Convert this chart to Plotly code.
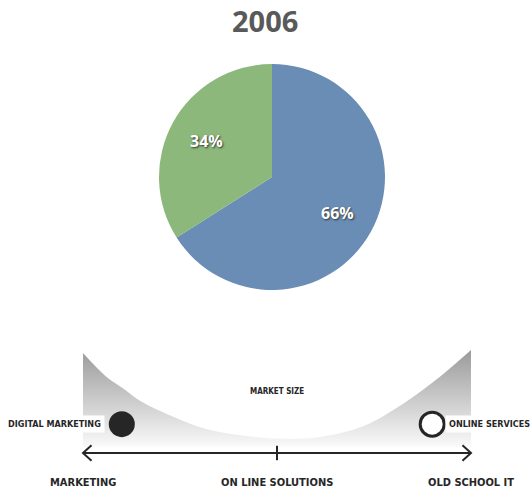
import math
import plotly.graph_objects as go

# ---------------- data ----------------
title_text = "2006"
pie_labels = ["Online solutions", "Other"]
pie_values = [66, 34]
pie_colors = ["#6a8db5", "#8cb87c"]

# market-size curve along the spectrum (0 = Marketing, 100 = Old school IT)
spectrum_pos = [0, 6, 11, 15, 24, 32, 41, 50, 57, 66, 74, 83, 91, 100]
market_size = [97, 74, 61, 50, 34, 23, 17, 14, 14, 19, 29, 49, 71, 100]
fill_floor = [6] * len(spectrum_pos)

company_names = ["DIGITAL MARKETING", "ONLINE SERVICES"]
company_pos = [10, 90]
company_size = [28, 28]

axis_labels = ["MARKETING", "ON LINE SOLUTIONS", "OLD SCHOOL IT"]
axis_label_pos = [0, 50, 100]
curve_label = "MARKET SIZE"

W, H = 530, 490
DARK = "#262626"
COND = "Liberation Sans Narrow, DejaVu Sans Condensed, Arial Narrow, sans-serif"

fig = go.Figure()

# pie
cx, cy, r = 272, 177, 113
fig.add_trace(go.Pie(
    labels=pie_labels, values=pie_values, sort=False, direction="clockwise",
    rotation=0, marker=dict(colors=pie_colors, line=dict(width=0)),
    textinfo="none",
    domain=dict(x=[(cx - r) / W, (cx + r) / W], y=[1 - (cy + r) / H, 1 - (cy - r) / H]),
    showlegend=False, hoverinfo="label+percent",
))

# percentage labels placed along each slice's mid-angle
total = sum(pie_values)
cum = 0
for v in pie_values:
    mid = (cum + v / 2) / total * 2 * math.pi
    cum += v
    px = cx + 0.66 * r * math.sin(mid)
    py = cy - 0.66 * r * math.cos(mid)
    fig.add_annotation(x=px / W, y=1 - py / H, xref="paper", yref="paper",
                       text=f"<b>{round(v / total * 100)}%</b>", showarrow=False,
                       xanchor="center", yanchor="middle",
                       font=dict(family="Open Sans", size=16, color="white",
                                 shadow="1px 1px 2px #333"))

# gray gradient market-size shape
fig.add_trace(go.Scatter(x=spectrum_pos, y=fill_floor, mode="lines",
                         line=dict(width=0, shape="spline"), showlegend=False,
                         hoverinfo="skip"))
fig.add_trace(go.Scatter(
    x=spectrum_pos, y=market_size, mode="lines", fill="tonexty",
    line=dict(width=0, shape="spline", smoothing=1.0, color="rgba(0,0,0,0)"),
    fillgradient=dict(type="vertical",
                      colorscale=[[0, "#fafafa"], [0.35, "#d8d8d8"], [1, "#9a9a9a"]]),
    showlegend=False, hoverinfo="skip"))

# company markers
fig.add_trace(go.Scatter(
    x=company_pos, y=company_size, mode="markers",
    marker=dict(size=[26, 24], color=[DARK, "white"], opacity=1,
                line=dict(color=DARK, width=[0, 3])),
    showlegend=False, hovertext=company_names, hoverinfo="text"))

# labels next to markers
fig.add_annotation(x=company_pos[0], y=company_size[0], text=f"<b>{company_names[0]}</b>",
                   xanchor="right", xshift=-17, showarrow=False, bgcolor="white",
                   borderpad=3, font=dict(family=COND, size=9, color=DARK))
fig.add_annotation(x=company_pos[1], y=company_size[1], text=f"<b>{company_names[1]}</b>",
                   xanchor="left", xshift=13, showarrow=False, bgcolor="white",
                   borderpad=3, font=dict(family=COND, size=9, color=DARK))

fig.add_annotation(x=axis_label_pos[1], y=60, text=f"<b>{curve_label}</b>", showarrow=False,
                   font=dict(family=COND, size=8, color=DARK))

for p, t in zip(axis_label_pos, axis_labels):
    fig.add_annotation(x=p, y=-29, text=f"<b>{t}</b>", showarrow=False,
                       font=dict(family=COND, size=11, color=DARK))

# axis line with chevrons and center tick
lw = 2
fig.add_shape(type="line", x0=axis_label_pos[0], x1=axis_label_pos[2], y0=0, y1=0,
              line=dict(color=DARK, width=lw))
for x_tip, dx in [(axis_label_pos[0], 2.2), (axis_label_pos[2], -2.2)]:
    fig.add_shape(type="path",
                  path=f"M {x_tip + dx},7.5 L {x_tip},0 L {x_tip + dx},-7.5",
                  line=dict(color=DARK, width=lw))
fig.add_shape(type="line", x0=axis_label_pos[1], x1=axis_label_pos[1], y0=-7, y1=7,
              line=dict(color=DARK, width=lw))

# title
fig.add_annotation(x=0.5, y=1 - 21 / H, xref="paper", yref="paper", text=f"<b>{title_text}</b>",
                   yanchor="middle", showarrow=False,
                   font=dict(family="Open Sans", size=29, color="#595959"))

fig.update_layout(
    width=W, height=H, margin=dict(l=0, r=0, t=0, b=0),
    paper_bgcolor="white", plot_bgcolor="rgba(0,0,0,0)",
    xaxis=dict(range=[-21.39, 115.21], visible=False, fixedrange=True),
    yaxis=dict(range=[-35.92, 439.81], visible=False, fixedrange=True),
)

fig.write_html("out.html", config={"displayModeBar": False},
               post_script="document.body.style.margin='0';")
